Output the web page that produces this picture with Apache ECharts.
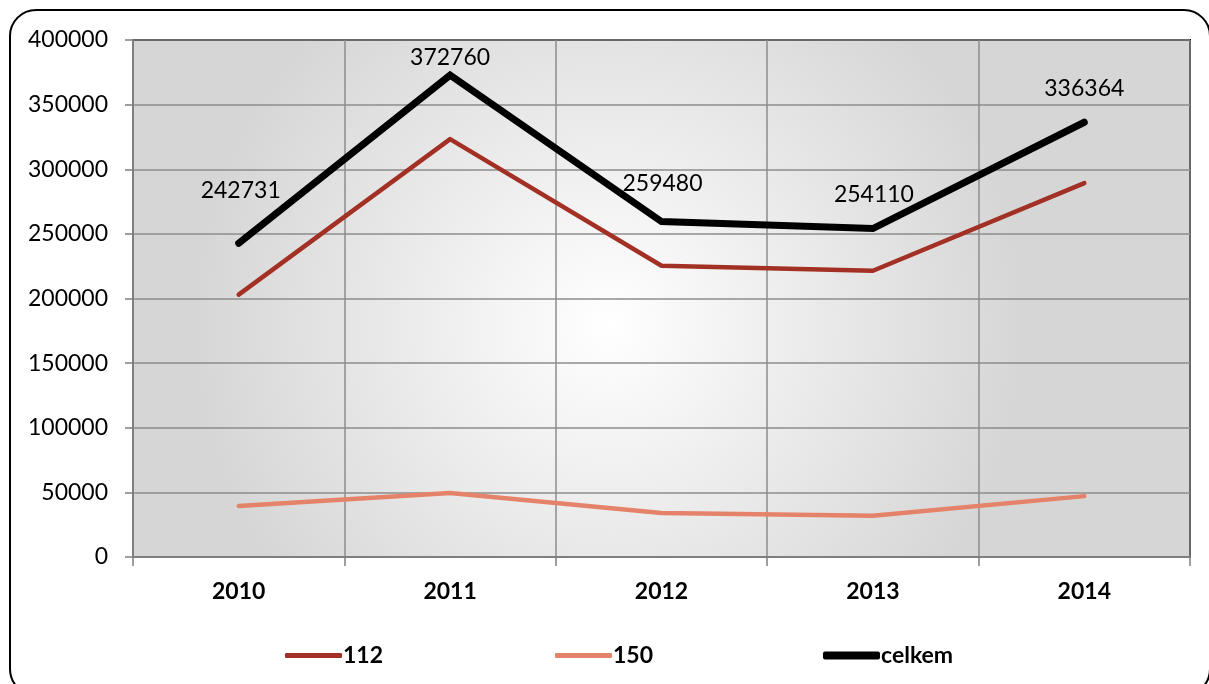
<!DOCTYPE html>
<html><head><meta charset="utf-8">
<script src="https://cdn.jsdelivr.net/npm/echarts@6/dist/echarts.min.js"></script>
<style>html,body{margin:0;padding:0;background:#fff;}#c{width:1209px;height:684px;}</style>
</head><body><div id="c"></div>
<script>
const categories = ['2010','2011','2012','2013','2014'];
const s112 = [203000, 323300, 225300, 221500, 289300];
const s150 = [39500, 49500, 34100, 32000, 47100];
const celkem = [242731, 372760, 259480, 254110, 336364];
const yTicks = [0, 50000, 100000, 150000, 200000, 250000, 300000, 350000, 400000];
const seriesNames = ['112', '150', 'celkem'];

const labelOffsets = [[2, -35], [0, 0], [1, -20], [1, -16], [0, -16]];
const legendLefts = [280, 550, 818];
const legendIconHeights = [5, 5, 8];

const chart = echarts.init(document.getElementById('c'));
const font = 'Lato, "Open Sans", sans-serif';
chart.setOption({
  animation: false,
  graphic: [{
    type: 'rect', shape: {x: 10, y: 10, width: 1200, height: 685, r: 26},
    style: {fill: 'none', stroke: '#000', lineWidth: 2}, z: -10
  }],
  grid: {
    left: 133, top: 40, right: 19, bottom: 127, show: true,
    borderColor: '#000', borderWidth: 2,
    backgroundColor: {
      type: 'radial', x: 0.45, y: 0.55, r: 0.8,
      colorStops: [{offset: 0, color: '#ffffff'}, {offset: 1, color: '#d6d6d6'}]
    }
  },
  legend: seriesNames.map((n, i) => ({
    left: legendLefts[i], top: 639, itemGap: 0,
    itemWidth: 57, itemHeight: legendIconHeights[i], icon: 'roundRect',
    textStyle: {fontFamily: font, fontWeight: 'bold', fontSize: 23, color: '#000', padding: [0,0,0,-4]},
    data: [n]
  })),
  xAxis: {
    type: 'category', data: categories, boundaryGap: true,
    axisLine: {lineStyle: {color: '#7f7f7f', width: 2}},
    axisTick: {show: true, length: 9, lineStyle: {color: '#7f7f7f', width: 1.5}},
    splitLine: {show: true, lineStyle: {color: '#8c8c8c', width: 1.5}},
    axisLabel: {fontFamily: font, fontWeight: 'bold', fontSize: 23, color: '#000', margin: 23}
  },
  yAxis: {
    type: 'value', min: 0, max: 400000, interval: 50000,
    axisLine: {show: true, lineStyle: {color: '#7f7f7f', width: 2}},
    axisTick: {show: true, length: 8, lineStyle: {color: '#7f7f7f', width: 1.5}},
    splitLine: {lineStyle: {color: '#8c8c8c', width: 1.5}},
    axisLabel: {fontFamily: font, fontSize: 23, color: '#000', margin: 25,
      formatter: v => yTicks.includes(v) ? String(v) : ''}
  },
  series: [
    {name: '112', type: 'line', data: s112, symbol: 'none', z: 3,
      lineStyle: {color: '#a33024', width: 4.5, cap: 'round', join: 'round'}, itemStyle: {color: '#a33024'}},
    {name: '150', type: 'line', data: s150, symbol: 'none', z: 3,
      lineStyle: {color: '#e5836a', width: 4.5, cap: 'round', join: 'round'}, itemStyle: {color: '#e5836a'}},
    {name: 'celkem', type: 'line', z: 4, symbol: 'circle', symbolSize: 1, showSymbol: true,
      data: celkem.map((v, i) => ({value: v, label: {offset: labelOffsets[i]}})),
      lineStyle: {color: '#000', width: 7, cap: 'round', join: 'miter'}, itemStyle: {color: '#000'},
      label: {show: true, position: 'top', distance: 6, fontFamily: font, fontSize: 23, color: '#000'}}
  ]
});
</script></body></html>
